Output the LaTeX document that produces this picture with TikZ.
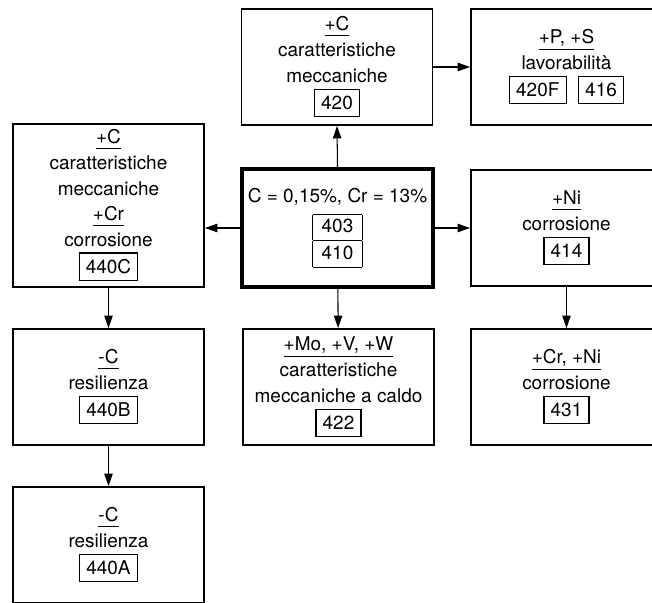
\documentclass[tikz,border=0pt]{standalone}
\usepackage{fontspec}
\setmainfont{TeX Gyre Heros}
\usetikzlibrary{arrows.meta}

\newcommand{\sigla}[1]{{\setlength{\fboxsep}{3.5pt}\setlength{\fboxrule}{0.6pt}\fbox{#1}}}
\newcommand{\elem}[1]{\underline{#1\rule[-1.2pt]{0pt}{1pt}}}

\begin{document}
\begin{tikzpicture}[>={Triangle[length=2.5mm,width=1.7mm]}, line width=0.6pt,
  scheda/.style={draw, line width=1.1pt, minimum width=3.82cm, minimum height=2.32cm,
    align=center, inner sep=2pt, font=\fontsize{10.8}{14.6}\selectfont}]
\useasboundingbox (0,0) rectangle (13.04,12.06);
\clip (0,0) rectangle (13.04,12.06);
\node[scheda] (A420) at (6.74,10.72) {\elem{+C}\\caratteristiche\\meccaniche\\[1pt]\sigla{420}};
\node[scheda] (APS) at (11.33,10.72) {\elem{+P, +S}\\lavorabilità\\[1pt]\sigla{420F}\hspace{0.6em}\sigla{416}};
\node[scheda, minimum height=3.26cm] (A440C) at (2.17,7.95) {\elem{+C}\\caratteristiche\\meccaniche\\\elem{+Cr}\\corrosione\\[1pt]\sigla{440C}};
\node[scheda, line width=2.3pt, minimum height=2.36cm] (Base) at (6.75,7.50) {C = 0,15\%, Cr = 13\%\\[4pt]
  {\setlength{\arrayrulewidth}{0.6pt}\setlength{\tabcolsep}{5pt}\begin{tabular}{|c|}\hline 403\\\hline 410\\\hline\end{tabular}}};
\node[scheda] (A414) at (11.33,7.50) {\elem{+Ni}\\corrosione\\[1pt]\sigla{414}};
\node[scheda] (A440B) at (2.17,4.32) {\elem{-C}\\resilienza\\[1pt]\sigla{440B}};
\node[scheda] (A422) at (6.77,4.32) {\elem{+Mo, +V, +W}\\caratteristiche\\meccaniche a caldo\\[1pt]\sigla{422}};
\node[scheda] (A431) at (11.33,4.32) {\elem{+Cr, +Ni}\\corrosione\\[1pt]\sigla{431}};
\node[scheda] (A440A) at (2.17,1.16) {\elem{-C}\\resilienza\\[1pt]\sigla{440A}};
% frecce
\draw[->] (Base.north) -- (A420.south);
\draw[->] (A420) -- (APS);
\draw[->] (Base.west) -- (Base.west -| A440C.east);
\draw[->] (Base) -- (A414);
\draw[->] (Base) -- (A422);
\draw[->] (A440C) -- (A440B);
\draw[->] (A440B) -- (A440A);
\draw[->] (A414) -- (A431);
\end{tikzpicture}
\end{document}
